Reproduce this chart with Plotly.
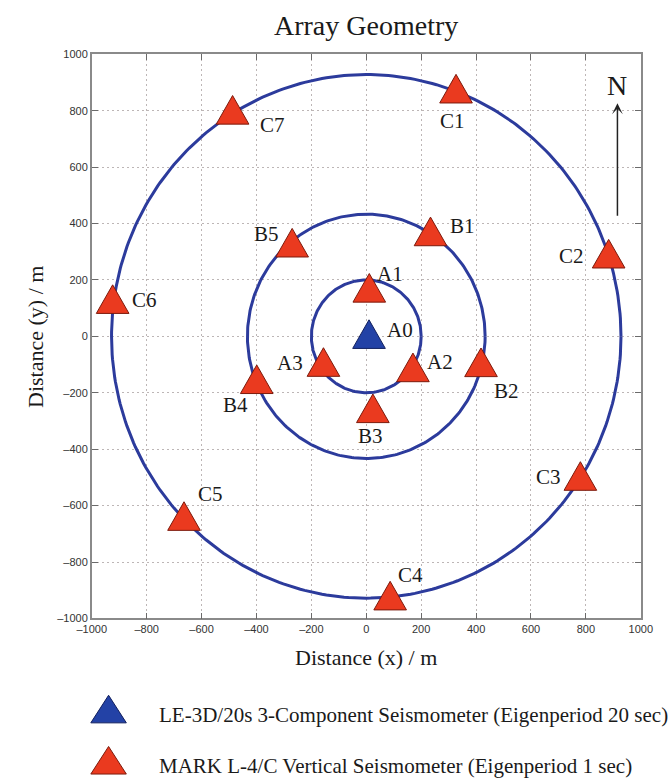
import plotly.graph_objects as go

# ---- figure geometry (pixels) ----
W, H = 671, 783
PLOT_L, PLOT_R, PLOT_T, PLOT_B = 80, 652, 49, 622

# ---- array data (metres) ----
CENTER_NAME = ["A0"]
CENTER_X = [10]
CENTER_Y = [8]

STATIONS = ["A1", "A2", "A3",
            "B1", "B2", "B3", "B4", "B5",
            "C1", "C2", "C3", "C4", "C5", "C6", "C7"]
STATION_X = [11, 170, -156,
             234, 418, 24, -399, -270,
             327, 883, 780, 87, -664, -924, -487]
STATION_Y = [172, -110, -91,
             372, -92, -255, -152, 332,
             878, 293, -495, -919, -637, 132, 803]

RING_RADII = [200, 433, 928]
AXIS_TICKS = list(range(-1000, 1001, 200))

LEGEND_LABELS = [
    "LE-3D/20s 3-Component Seismometer (Eigenperiod 20 sec)",
    "MARK L-4/C Vertical Seismometer (Eigenperiod 1 sec)",
]

# label placement relative to each station marker: (xanchor, xshift px, yshift px)
LABEL_STYLE = {
    "A0": ("left", 16, 4),
    "A1": ("left", 6, 14),
    "A2": ("left", 12, 5),
    "A3": ("right", -18, -1),
    "B1": ("left", 17, 5),
    "B2": ("left", 11, -29),
    "B3": ("center", -2, -28),
    "B4": ("center", -21, -26),
    "B5": ("right", -11, 9),
    "C1": ("center", -4, -32),
    "C2": ("right", -23, -2),
    "C3": ("right", -17, -1),
    "C4": ("left", 6, 21),
    "C5": ("left", 12, 22),
    "C6": ("left", 17, -1),
    "C7": ("left", 25, -15),
}

RED = "#ea3a1f"
RED_EDGE = "#7c1a0c"
BLUE = "#2342a6"
BLUE_EDGE = "#111f5e"
RING = "#2c3b9c"
SERIF = "Liberation Serif, Times New Roman, serif"
SANS = "Liberation Sans, Arial, sans-serif"

# marker triangle size in metres (34 px wide, 29 px tall on this scale)
M_PER_PX = 2000.0 / (PLOT_R - PLOT_L)
TRI_HW = 17 * M_PER_PX
TRI_HH = 14.5 * M_PER_PX


def triangles(xs, ys, hw, hh):
    px, py = [], []
    for x, y in zip(xs, ys):
        px += [x - hw, x + hw, x, x - hw, None]
        py += [y - hh, y - hh, y + hh, y - hh, None]
    return px, py


def ring(r, n=361):
    import numpy as np
    t = np.linspace(0, 2 * np.pi, n)
    return r * np.cos(t), r * np.sin(t)


fig = go.Figure()

# sensor rings
for r in RING_RADII:
    cx, cy = ring(r)
    fig.add_trace(go.Scatter(x=cx, y=cy, mode="lines",
                             line=dict(color=RING, width=3),
                             hoverinfo="skip", showlegend=False))

# vertical seismometers
tx, ty = triangles(STATION_X, STATION_Y, TRI_HW, TRI_HH)
fig.add_trace(go.Scatter(x=tx, y=ty, mode="lines", fill="toself",
                         fillcolor=RED, line=dict(color=RED_EDGE, width=1),
                         hoverinfo="skip", showlegend=False))

# three-component seismometer at the array centre
tx, ty = triangles(CENTER_X, CENTER_Y, TRI_HW, TRI_HH)
fig.add_trace(go.Scatter(x=tx, y=ty, mode="lines", fill="toself",
                         fillcolor=BLUE, line=dict(color=BLUE_EDGE, width=1),
                         hoverinfo="skip", showlegend=False))

# station names
annotations = []
for name, x, y in zip(CENTER_NAME + STATIONS, CENTER_X + STATION_X, CENTER_Y + STATION_Y):
    anchor, dx, dy = LABEL_STYLE[name]
    annotations.append(dict(x=x, y=y, xref="x", yref="y", text=name,
                            showarrow=False, xanchor=anchor, yanchor="middle",
                            xshift=dx, yshift=dy,
                            font=dict(family=SERIF, size=21, color="#1a1a1a")))

# north arrow
annotations.append(dict(x=915, y=826, ax=915, ay=422, xref="x", yref="y",
                        axref="x", ayref="y", text="", showarrow=True,
                        arrowhead=3, arrowsize=1.2, arrowwidth=1.5,
                        arrowcolor="#222222"))
annotations.append(dict(x=915, y=888, xref="x", yref="y", text="N",
                        showarrow=False, xanchor="center", yanchor="middle",
                        font=dict(family=SERIF, size=28, color="#1a1a1a")))

# title and axis titles
annotations.append(dict(x=(PLOT_L + PLOT_R) / 2 / W, y=1 - 20 / H, xref="paper", yref="paper",
                        text="Array Geometry", showarrow=False,
                        xanchor="center", yanchor="middle",
                        font=dict(family=SERIF, size=28, color="#1a1a1a")))
annotations.append(dict(x=(PLOT_L + PLOT_R) / 2 / W, y=1 - 662 / H, xref="paper", yref="paper",
                        text="Distance (x) / m", showarrow=False,
                        xanchor="center", yanchor="middle",
                        font=dict(family=SERIF, size=22, color="#1a1a1a")))
annotations.append(dict(x=22 / W, y=1 - 336 / H, xref="paper", yref="paper",
                        text="Distance (y) / m", showarrow=False, textangle=-90,
                        xanchor="center", yanchor="middle",
                        font=dict(family=SERIF, size=22, color="#1a1a1a")))

# legend below the plot (axes measured in pixels)
LEG_TOP = 690
leg_y = [714, 766]
leg_fill = [BLUE, RED]
leg_edge = [BLUE_EDGE, RED_EDGE]
for yy, fc, ec, label in zip(leg_y, leg_fill, leg_edge, LEGEND_LABELS):
    lx, ly = triangles([97.5], [yy], 18.5, -14)
    fig.add_trace(go.Scatter(x=lx, y=ly, mode="lines", fill="toself",
                             fillcolor=fc, line=dict(color=ec, width=1),
                             xaxis="x2", yaxis="y2", name=label,
                             hoverinfo="skip", showlegend=False))
    annotations.append(dict(x=148, y=yy + 6, xref="x2", yref="y2", text=label,
                            showarrow=False, xanchor="left", yanchor="middle",
                            font=dict(family=SERIF, size=21, color="#1a1a1a")))

axis_common = dict(
    range=[-1000, 1000], tickmode="array", tickvals=AXIS_TICKS,
    ticktext=[str(v).replace("-", "\u2013") for v in AXIS_TICKS],
    showgrid=True, gridcolor="#bdb6b6", griddash="2px,3px", gridwidth=1,
    zeroline=False, showline=True, linecolor="#8a8a8a", linewidth=1.5,
    mirror="ticks", ticks="inside", ticklen=6, tickcolor="#6a6a6a", tickwidth=1,
    tickfont=dict(family=SANS, size=11, color="#333333"),
    fixedrange=True,
)

fig.update_layout(
    width=W, height=H,
    margin=dict(l=0, r=0, t=0, b=0),
    paper_bgcolor="white", plot_bgcolor="white",
    showlegend=False,
    xaxis=dict(domain=[PLOT_L / W, PLOT_R / W], anchor="y", **axis_common),
    yaxis=dict(domain=[1 - PLOT_B / H, 1 - PLOT_T / H], anchor="x", **axis_common),
    xaxis2=dict(domain=[0, 1], range=[0, W], anchor="y2", visible=False, fixedrange=True),
    yaxis2=dict(domain=[0, (H - LEG_TOP) / H], range=[H, LEG_TOP], anchor="x2",
                visible=False, fixedrange=True),
    annotations=annotations,
)

fig.write_html("out.html")
